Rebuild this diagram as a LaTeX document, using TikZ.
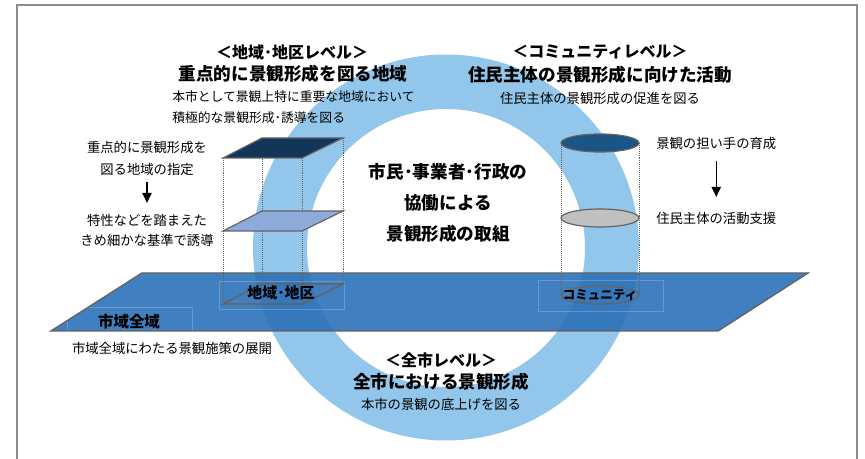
\documentclass[tikz,border=0pt]{standalone}
\usepackage{fontspec}
\setmainfont{Noto Sans CJK JP}
\usetikzlibrary{arrows.meta}
\definecolor{ringblue}{RGB}{146,198,235}
\definecolor{planeblue}{RGB}{64,128,192}
\definecolor{ringover}{RGB}{54,120,188}
\definecolor{edgegray}{RGB}{100,100,100}
\definecolor{framegray}{RGB}{140,140,140}
\definecolor{navyplate}{RGB}{18,53,90}
\definecolor{paleplate}{RGB}{142,170,219}
\definecolor{cyltop}{RGB}{27,85,133}
\definecolor{cylmid}{RGB}{192,192,192}
\definecolor{baseline}{RGB}{110,92,76}
\begin{document}
\begin{tikzpicture}[x=0.75pt,y=0.75pt,yscale=-1,xscale=1,
  head/.style={inner sep=0pt, font=\bfseries\fontsize{12}{14}\selectfont},
  title/.style={inner sep=0pt, font=\bfseries\fontsize{13.2}{15}\selectfont},
  small/.style={inner sep=0pt, align=center, font=\fontsize{10}{16}\selectfont},
  guide/.style={densely dotted, color=edgegray, line width=0.45},
  faint/.style={draw=white, draw opacity=0.2, line width=0.5},
  down/.style={-{Triangle[width=7pt,length=7.5pt]}, line width=0.9}
]
\useasboundingbox (0,0) rectangle (865,459);
\clip (0,0) rectangle (865,459);
\draw [color=framegray, line width=1.1] (17,5) rectangle (857,480);
% ring
\fill [ringblue, even odd rule] (446,247.5) circle [radius=193] (446,248) circle [radius=139];
% city plane
\fill [planeblue] (51,331) -- (142,273) -- (808,273) -- (718,331) -- cycle;
\begin{scope}
\clip (51,331) -- (142,273) -- (808,273) -- (718,331) -- cycle;
\fill [ringover, even odd rule] (446,247.5) circle [radius=193] (446,248) circle [radius=139];
\end{scope}
\draw [faint] (67,331) -- (67,307) -- (192,307) -- (192,331);
\draw [faint] (219,281) rectangle (344,309);
\draw [faint] (538,280) rectangle (663,311);
\draw [color=edgegray, line width=1.1] (51,331) -- (142,273) -- (808,273) -- (718,331) -- cycle;
% district stack
\draw [guide] (223,158) -- (223,304);
\draw [guide] (262,138) -- (262,284);
\draw [guide] (302,158) -- (302,304);
\draw [guide] (343,138) -- (343,284);
\draw [fill=navyplate, draw=edgegray, line width=0.9] (223,158) -- (262,138) -- (343,138) -- (302,158) -- cycle;
\draw [fill=paleplate, draw=edgegray, line width=0.9] (223,231) -- (262,211) -- (343,211) -- (302,231) -- cycle;
\draw [draw=baseline, line width=0.9] (223,304) -- (262,284) -- (343,284) -- (302,304) -- cycle;
% community cylinder
\draw [guide] (561,143) -- (561,295);
\draw [guide] (639,143) -- (639,295);
\draw [fill=cyltop, draw=edgegray, line width=0.9] (600,143) circle [x radius=39, y radius=9];
\draw [fill=cylmid, draw=edgegray, line width=0.9] (600,218) circle [x radius=39, y radius=9];
\draw [draw=edgegray, line width=0.9] (600,295) circle [x radius=39, y radius=9];
% labels
\node [head] (areaHead) at (292,52) {＜地域･地区レベル＞};
\node [title] (areaTitle) at (293,74) {重点的に景観形成を図る地域};
\node [small, anchor=west, align=left, font=\fontsize{9.6}{15.75}\selectfont] (areaNote) at (172,107.5) {本市として景観上特に重要な地域において\\積極的な景観形成･誘導を図る};
\node [head] (commHead) at (600,52) {＜コミュニティレベル＞};
\node [title] (commTitle) at (600,75) {住民主体の景観形成に向けた活動};
\node [small] (commNote) at (600,98) {住民主体の景観形成の促進を図る};
\node [inner sep=0pt, align=center, font=\bfseries\fontsize{13.2}{23.25}\selectfont] (core) at (448,203) {市民･事業者･行政の\\協働による\\景観形成の取組};
\node [head] (cityHead) at (441,360) {＜全市レベル＞};
\node [title] (cityTitle) at (441,382) {全市における景観形成};
\node [small] (cityNote) at (441,404) {本市の景観の底上げを図る};
\node [small, font=\fontsize{10}{16.5}\selectfont] (pickArea) at (147,158) {重点的に景観形成を\\図る地域の指定};
\node [small, font=\fontsize{10}{15}\selectfont] (guideArea) at (147,230) {特性などを踏まえた\\きめ細かな基準で誘導};
\node [small, anchor=west] (raiseCarer) at (656,143) {景観の担い手の育成};
\node [small, anchor=west] (backCitizen) at (656,218) {住民主体の活動支援};
\node [inner sep=0pt, font=\bfseries\fontsize{11.6}{14}\selectfont] (wholeCity) at (129,322) {市域全域};
\node [small] (wholeNote) at (172,348) {市域全域にわたる景観施策の展開};
\node [inner sep=0pt, font=\bfseries\fontsize{11.2}{13}\selectfont] (district) at (281,293) {地域･地区};
\node [inner sep=0pt, font=\bfseries\fontsize{9.4}{12}\selectfont] (community) at (600,295) {コミュニティ};
\draw [down, shorten <=5pt, shorten >=8pt] (pickArea.south) -- (guideArea.north);
\draw [down, shorten <=9pt, shorten >=11pt] (raiseCarer.south) -- (backCitizen.north);
\end{tikzpicture}
\end{document}
